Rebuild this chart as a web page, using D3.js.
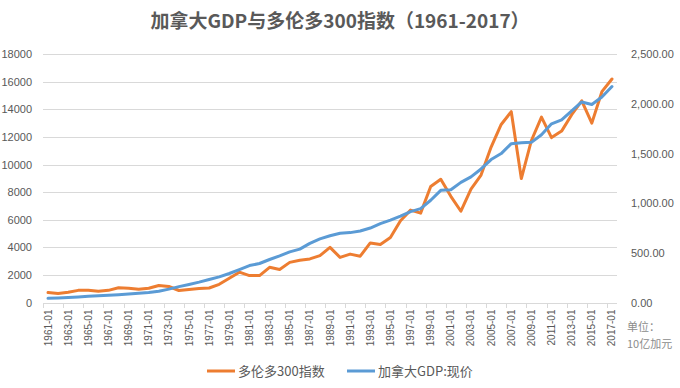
<!DOCTYPE html>
<html>
<head>
<meta charset="utf-8">
<script src="https://cdn.jsdelivr.net/npm/d3@7"></script>
<style>
body { margin:0; background:#fff; }
svg { display:block; }
</style>
</head>
<body>
<svg id="chart" width="680" height="388"></svg>
<script>
// 年份 (每年末数据, 标签写作 YYYY-01)
var years = d3.range(1961, 2018);
// 多伦多300指数 (左轴)
var tsxValues = [720, 650, 740, 880, 890, 820, 880, 1070, 1040, 960,
	1030, 1230, 1160, 870, 950, 1010, 1050, 1320, 1760, 2200,
	1950, 1950, 2550, 2400, 2910, 3070, 3160, 3400, 4000, 3270,
	3510, 3360, 4320, 4210, 4720, 5930, 6700, 6480, 8410, 8940,
	7700, 6620, 8220, 9240, 11270, 12910, 13840, 8990, 11750, 13440,
	11960, 12430, 13620, 14630, 13010, 15290, 16210];
// 加拿大GDP:现价, 10亿加元 (右轴)
var gdpValues = [42, 46, 50, 56, 62, 67, 73, 79, 86, 92,
	100, 113, 135, 160, 182, 205, 232, 258, 292, 332,
	372, 393, 433, 470, 510, 538, 595, 641, 672, 697,
	704, 720, 750, 795, 830, 870, 915, 945, 1030, 1130,
	1135, 1210, 1265, 1345, 1440, 1500, 1600, 1608, 1613, 1690,
	1800, 1840, 1930, 2020, 1995, 2070, 2175];
var leftTicks = [0, 2000, 4000, 6000, 8000, 10000, 12000, 14000, 16000, 18000];
var rightTicks = [0, 500, 1000, 1500, 2000, 2500];
var seriesNames = ["多伦多300指数", "加拿大GDP:现价"];
var colors = ["#ED7D31", "#5B9BD5"];

var svg = d3.select("#chart");
var numFont = "'Liberation Sans', Arial, 'Noto Sans CJK SC', sans-serif";
var cjkFont = "'Noto Sans CJK SC', 'Microsoft YaHei', sans-serif";
var textColor = "#595959";

var plotLeft = 43, plotRight = 617, plotTop = 54.3, plotBottom = 302.5;

var x = d3.scaleBand().domain(years).range([plotLeft, plotRight]);
var yLeft = d3.scaleLinear().domain([0, 18000]).range([plotBottom, plotTop]);
var yRight = d3.scaleLinear().domain([0, 2500]).range([plotBottom, plotTop]);
function cx(yr){ return x(yr) + x.bandwidth()/2; }

// title
svg.append("text")
	.attr("x", 340)
	.attr("y", 28)
	.attr("text-anchor", "middle")
	.style("font-family", cjkFont)
	.style("font-size", "19px")
	.style("font-weight", "bold")
	.attr("fill", textColor)
	.text("加拿大GDP与多伦多300指数（1961-2017）");

// grid lines
svg.append("g")
	.attr("class", "grid")
	.selectAll("line")
	.data(leftTicks).enter()
	.append("line")
	.attr("x1", plotLeft)
	.attr("x2", plotRight)
	.attr("y1", function(d){ return Math.round(yLeft(d)) + 0.5; })
	.attr("y2", function(d){ return Math.round(yLeft(d)) + 0.5; })
	.attr("stroke", "#d9d9d9")
	.attr("stroke-width", 1);

// left axis
var leftAxis = svg.append("g")
	.attr("transform", "translate(" + plotLeft + ",0)")
	.call(d3.axisLeft(yLeft).tickValues(leftTicks).tickSize(0).tickPadding(11).tickFormat(d3.format("d")));
leftAxis.select(".domain").remove();
leftAxis.selectAll("text")
	.attr("fill", textColor)
	.style("font-family", numFont)
	.style("font-size", "11px");

// right axis
var rightAxis = svg.append("g")
	.attr("transform", "translate(" + plotRight + ",0)")
	.call(d3.axisRight(yRight).tickValues(rightTicks).tickSize(0).tickPadding(14).tickFormat(d3.format(",.2f")));
rightAxis.select(".domain").remove();
rightAxis.selectAll("text")
	.attr("fill", textColor)
	.style("font-family", numFont)
	.style("font-size", "11px");

// x axis tick marks (between categories, every 2)
var tickYears = years.filter(function(d, i){ return i % 2 == 0; });
svg.append("g")
	.selectAll("line")
	.data(tickYears).enter()
	.append("line")
	.attr("x1", function(d){ return Math.round(x(d)) + 0.5; })
	.attr("x2", function(d){ return Math.round(x(d)) + 0.5; })
	.attr("y1", Math.round(plotBottom) + 0.5)
	.attr("y2", Math.round(plotBottom) + 5)
	.attr("stroke", "#d9d9d9");

// x labels
svg.append("g")
	.selectAll("text")
	.data(tickYears).enter()
	.append("text")
	.attr("transform", function(d){ return "translate(" + cx(d) + "," + (plotBottom + 7) + ") rotate(-90)"; })
	.attr("text-anchor", "end")
	.attr("dy", "0.35em")
	.attr("fill", textColor)
	.style("font-family", numFont)
	.style("font-size", "10px")
	.text(function(d){ return d + "-01"; });

// lines
var lineLeft = d3.line()
	.x(function(d, i){ return cx(years[i]); })
	.y(function(d){ return yLeft(d); });
var lineRight = d3.line()
	.x(function(d, i){ return cx(years[i]); })
	.y(function(d){ return yRight(d); });

svg.append("path")
	.datum(tsxValues)
	.attr("d", lineLeft)
	.attr("fill", "none")
	.attr("stroke", colors[0])
	.attr("stroke-width", 3)
	.attr("stroke-linejoin", "round")
	.attr("stroke-linecap", "round");

svg.append("path")
	.datum(gdpValues)
	.attr("d", lineRight)
	.attr("fill", "none")
	.attr("stroke", colors[1])
	.attr("stroke-width", 3)
	.attr("stroke-linejoin", "round")
	.attr("stroke-linecap", "round");

// unit note
var unit = svg.append("text")
	.attr("x", 627)
	.attr("y", 331)
	.attr("fill", "#8c8c8c")
	.style("font-family", cjkFont)
	.style("font-size", "11px");
unit.append("tspan").attr("x", 627).text("单位：");
unit.append("tspan").attr("x", 627).attr("dy", 17).text("10亿加元");

// legend
var legendX = [207, 347];
var legend = svg.append("g")
	.selectAll("g")
	.data(seriesNames).enter()
	.append("g")
	.attr("transform", function(d, i){ return "translate(" + legendX[i] + ",371)"; });
legend.append("line")
	.attr("x1", 0)
	.attr("x2", 28)
	.attr("stroke", function(d, i){ return colors[i]; })
	.attr("stroke-width", 3);
legend.append("text")
	.attr("x", 31)
	.attr("dy", "0.35em")
	.attr("fill", textColor)
	.style("font-family", cjkFont)
	.style("font-size", "13px")
	.text(function(d){ return d; });
</script>
</body>
</html>
